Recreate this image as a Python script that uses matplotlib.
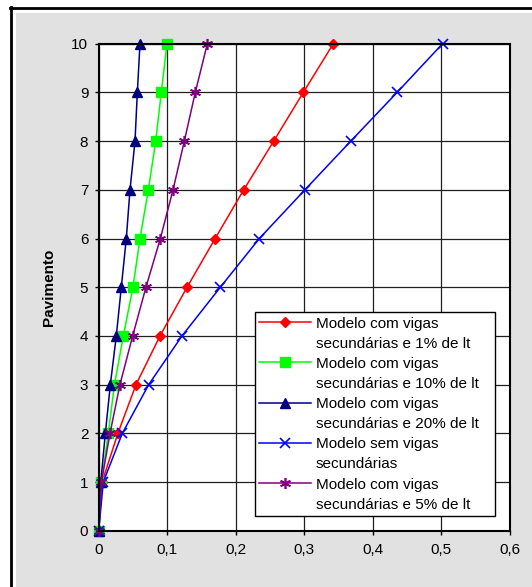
import matplotlib
matplotlib.use('Agg')
import matplotlib.pyplot as plt
from matplotlib.lines import Line2D
from matplotlib.patches import Rectangle

plt.rcParams['font.family'] = ['Liberation Sans', 'DejaVu Sans']

pavimentos = [0, 1, 2, 3, 4, 5, 6, 7, 8, 9, 10]

vigas_1 = [0, 0.005, 0.028, 0.0545, 0.0895, 0.129, 0.170, 0.2117, 0.2555, 0.2987, 0.3425]
vigas_10 = [0, 0.004, 0.014, 0.023, 0.036, 0.050, 0.0603, 0.0725, 0.0832, 0.0914, 0.0997]
vigas_20 = [0, 0.003, 0.0097, 0.017, 0.0257, 0.033, 0.0403, 0.0457, 0.053, 0.0564, 0.0603]
sem_vigas = [0, 0.0067, 0.0345, 0.073, 0.1216, 0.1776, 0.2345, 0.301, 0.368, 0.4356, 0.502]
vigas_5 = [0, 0.004, 0.0165, 0.031, 0.0496, 0.069, 0.090, 0.1085, 0.125, 0.141, 0.1586]

rotulos = [
    "Modelo com vigas\nsecundárias e 1% de lt",
    "Modelo com vigas\nsecundárias e 10% de lt",
    "Modelo com vigas\nsecundárias e 20% de lt",
    "Modelo sem vigas\nsecundárias",
    "Modelo com vigas\nsecundárias e 5% de lt",
]

xticks = [0, 0.1, 0.2, 0.3, 0.4, 0.5, 0.6]
xticklabels = ["0", "0,1", "0,2", "0,3", "0,4", "0,5", "0,6"]

fig = plt.figure(figsize=(5.32, 5.87), dpi=100)
fig.patch.set_facecolor('white')

# fond gris + cadre noir (en pixels)
W, H = 532, 587
fig.patches.append(Rectangle((16 / W, 0), 1, (H - 13) / H, transform=fig.transFigure,
                             facecolor='#e1e1e1', edgecolor='none', zorder=-10))
fig.lines.append(Line2D([10.5 / W, 10.5 / W], [0, (H - 7) / H], transform=fig.transFigure,
                        color='black', linewidth=2))
fig.lines.append(Line2D([10 / W, 1], [(H - 7.5) / H, (H - 7.5) / H], transform=fig.transFigure,
                        color='black', linewidth=2))

ax = fig.add_axes([98.7 / W, 56.3 / H, 411 / W, 487 / H])
ax.set_facecolor('white')

ax.plot(vigas_1, pavimentos, color='#ff0000', marker='D', markersize=5.5, linewidth=1.1,
        clip_on=False, label=rotulos[0])
ax.plot(vigas_10, pavimentos, color='#00ff00', marker='s', markersize=7, linewidth=1.1,
        clip_on=False, label=rotulos[1])
ax.plot(vigas_20, pavimentos, color='#000080', marker='^', markersize=7, linewidth=1.1,
        clip_on=False, label=rotulos[2])
ax.plot(sem_vigas, pavimentos, color='#0000ff', marker='x', markersize=7, markeredgewidth=1.2,
        linewidth=1.1, clip_on=False, label=rotulos[3])
ax.plot(vigas_5, pavimentos, color='#800080', marker=(6, 2, 0), markersize=8, markeredgewidth=1.2,
        linewidth=1.1, clip_on=False, label=rotulos[4])

ax.set_xlim(0, 0.6)
ax.set_ylim(0, 10)
ax.set_xticks(xticks)
ax.set_xticklabels(xticklabels)
ax.set_yticks(pavimentos)
ax.tick_params(direction='out', length=3, width=1, colors='black', labelsize=11)
ax.tick_params(axis='x', pad=6)
ax.tick_params(axis='y', pad=4.5)
ax.grid(True, color='#202020', linewidth=0.9)
ax.set_axisbelow(True)
for s in ax.spines.values():
    s.set_linewidth(1.5)
    s.set_color('black')

ax.set_ylabel("Pavimento", fontsize=11, fontweight='bold')
ax.yaxis.set_label_coords(-0.104, 0.5)

# legende : une ligne de texte par entree, le symbole sur la premiere ligne
handles, labels = ax.get_legend_handles_labels()
leg_handles, leg_labels = [], []
for h, lab in zip(handles, labels):
    lignes = lab.split("\n")
    leg_handles.append(h)
    leg_labels.append(lignes[0])
    for l in lignes[1:]:
        leg_handles.append(Line2D([], [], linestyle='none'))
        leg_labels.append(l)

leg = ax.legend(leg_handles, leg_labels, loc='upper left',
                bbox_to_anchor=(0.38, 0.349, 0.584, 0.1), mode='expand',
                fontsize=11, frameon=True, fancybox=False, edgecolor='black', framealpha=1,
                borderpad=0.3, handlelength=3.4, handletextpad=0.3, labelspacing=0.4,
                borderaxespad=0)
leg.get_frame().set_linewidth(1)

plt.savefig('out.png', dpi=100)
